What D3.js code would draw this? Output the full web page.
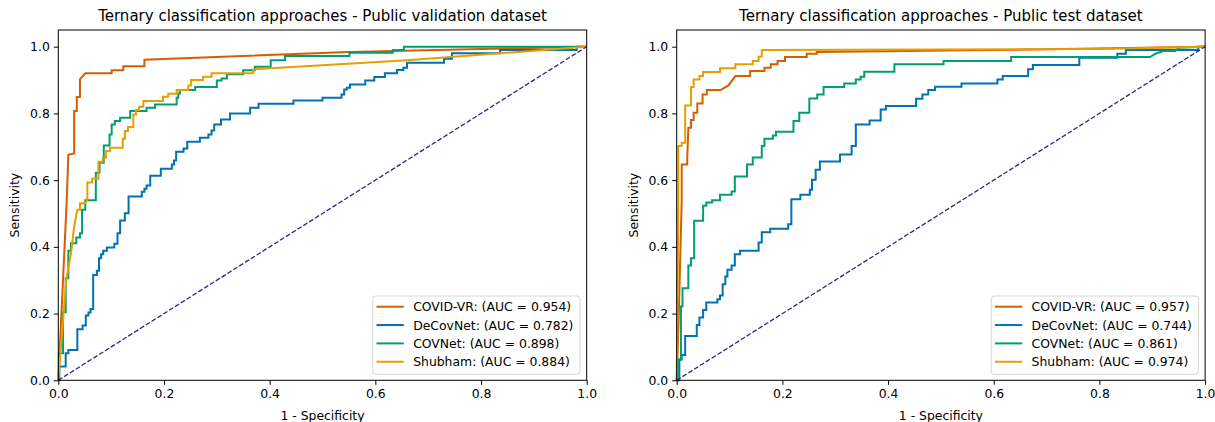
<!DOCTYPE html>
<html>
<head>
<meta charset="utf-8">
<script src="https://cdn.jsdelivr.net/npm/d3@7"></script>
<style>
  body { margin: 0; background: #fff; }
  svg { font-family: "DejaVu Sans", sans-serif; }
</style>
</head>
<body>
<svg width="1215" height="422"></svg>
<script>
// series names + colours, shared by both panels
var seriesNames = ["COVID-VR", "DeCovNet", "COVNet", "Shubham"];
var seriesColors = ["#d55e00", "#0072b2", "#009e73", "#e69f00"];
var xTicks = [0, 0.2, 0.4, 0.6, 0.8, 1.0];
var yTicks = [0, 0.2, 0.4, 0.6, 0.8, 1.0];

// validation dataset, [fpr, tpr]
var valCovidVR = [[0,0],[0.003,0.1],[0.016,0.54],[0.019,0.676],[0.03,0.68],[0.03,0.807],[0.035,0.807],[0.035,0.849],[0.041,0.849],[0.041,0.902],[0.051,0.92],[0.101,0.92],[0.101,0.929],[0.123,0.929],[0.123,0.941],[0.163,0.941],[0.163,0.961],[0.55,0.984],[0.8,0.993],[1,1]];
var valDeCovNet = [[0,0],[0.002,0],[0.002,0.041],[0.014,0.041],[0.014,0.081],[0.019,0.081],[0.019,0.091],[0.036,0.091],[0.036,0.153],[0.046,0.153],[0.046,0.164],[0.052,0.164],[0.052,0.194],[0.057,0.194],[0.057,0.203],[0.061,0.203],[0.061,0.214],[0.066,0.214],[0.066,0.316],[0.073,0.316],[0.073,0.328],[0.077,0.328],[0.077,0.366],[0.081,0.366],[0.081,0.378],[0.085,0.378],[0.085,0.388],[0.092,0.388],[0.092,0.398],[0.106,0.398],[0.106,0.409],[0.112,0.409],[0.112,0.441],[0.117,0.441],[0.117,0.479],[0.126,0.479],[0.126,0.501],[0.133,0.501],[0.133,0.551],[0.158,0.551],[0.158,0.565],[0.163,0.565],[0.163,0.574],[0.167,0.574],[0.167,0.584],[0.174,0.584],[0.174,0.613],[0.194,0.613],[0.194,0.634],[0.215,0.634],[0.215,0.647],[0.219,0.647],[0.219,0.659],[0.223,0.659],[0.223,0.685],[0.237,0.685],[0.237,0.695],[0.244,0.695],[0.244,0.715],[0.268,0.715],[0.268,0.727],[0.284,0.727],[0.284,0.737],[0.29,0.737],[0.29,0.749],[0.295,0.749],[0.295,0.767],[0.308,0.767],[0.308,0.782],[0.325,0.782],[0.325,0.8],[0.363,0.8],[0.363,0.817],[0.379,0.817],[0.379,0.829],[0.445,0.829],[0.445,0.839],[0.5,0.839],[0.5,0.847],[0.536,0.847],[0.536,0.857],[0.541,0.857],[0.541,0.872],[0.546,0.872],[0.546,0.877],[0.552,0.877],[0.552,0.887],[0.581,0.887],[0.581,0.899],[0.598,0.899],[0.598,0.909],[0.618,0.909],[0.618,0.92],[0.641,0.92],[0.641,0.93],[0.653,0.93],[0.653,0.937],[0.66,0.937],[0.66,0.952],[0.73,0.952],[0.73,0.964],[0.745,0.964],[0.745,0.98],[0.836,0.98],[0.836,0.99],[0.981,0.99],[0.981,1],[1,1]];
var valCOVNet = [[0,0],[0.001,0],[0.001,0.081],[0.009,0.081],[0.009,0.204],[0.014,0.204],[0.014,0.306],[0.019,0.306],[0.019,0.388],[0.024,0.388],[0.024,0.411],[0.034,0.411],[0.034,0.428],[0.041,0.428],[0.041,0.441],[0.045,0.441],[0.045,0.511],[0.051,0.511],[0.051,0.54],[0.071,0.54],[0.071,0.622],[0.078,0.622],[0.078,0.652],[0.086,0.652],[0.086,0.704],[0.097,0.704],[0.097,0.737],[0.101,0.737],[0.101,0.767],[0.107,0.767],[0.107,0.777],[0.117,0.777],[0.117,0.787],[0.136,0.787],[0.136,0.807],[0.167,0.807],[0.167,0.817],[0.183,0.817],[0.183,0.827],[0.224,0.827],[0.224,0.847],[0.227,0.847],[0.227,0.86],[0.23,0.86],[0.23,0.87],[0.259,0.87],[0.259,0.879],[0.3,0.879],[0.3,0.899],[0.309,0.899],[0.309,0.905],[0.319,0.905],[0.319,0.917],[0.35,0.917],[0.35,0.929],[0.372,0.929],[0.372,0.94],[0.402,0.94],[0.402,0.959],[0.429,0.959],[0.429,0.972],[0.551,0.972],[0.551,0.982],[0.633,0.982],[0.633,0.99],[0.654,0.99],[0.654,1],[1,1]];
var valShubham = [[0,0],[0.005,0.1],[0.015,0.3],[0.025,0.391],[0.03,0.461],[0.036,0.511],[0.041,0.511],[0.041,0.531],[0.051,0.531],[0.055,0.541],[0.055,0.593],[0.064,0.593],[0.064,0.604],[0.076,0.604],[0.076,0.655],[0.084,0.655],[0.084,0.667],[0.09,0.667],[0.09,0.687],[0.098,0.687],[0.098,0.697],[0.122,0.697],[0.122,0.724],[0.126,0.724],[0.126,0.747],[0.132,0.747],[0.132,0.759],[0.142,0.759],[0.142,0.797],[0.147,0.797],[0.147,0.81],[0.153,0.81],[0.153,0.82],[0.161,0.82],[0.161,0.837],[0.198,0.837],[0.198,0.85],[0.208,0.85],[0.208,0.859],[0.224,0.859],[0.224,0.87],[0.246,0.87],[0.246,0.884],[0.251,0.884],[0.251,0.9],[0.274,0.9],[0.274,0.91],[0.29,0.91],[0.29,0.92],[0.369,0.92],[0.369,0.932],[0.66,0.959],[1,1]];
var valAUC = [0.954, 0.782, 0.898, 0.884];

// test dataset
var testCovidVR = [[0,0],[0.004,0.2],[0.0095,0.54],[0.0095,0.647],[0.02,0.647],[0.02,0.667],[0.022,0.757],[0.027,0.757],[0.027,0.78],[0.032,0.78],[0.032,0.802],[0.039,0.802],[0.039,0.83],[0.049,0.83],[0.049,0.857],[0.057,0.857],[0.057,0.87],[0.083,0.87],[0.098,0.884],[0.111,0.912],[0.139,0.912],[0.139,0.927],[0.166,0.927],[0.166,0.937],[0.178,0.937],[0.178,0.947],[0.191,0.947],[0.191,0.957],[0.205,0.957],[0.205,0.969],[0.246,0.969],[0.246,0.979],[0.265,0.979],[0.265,0.984],[0.6,0.99],[1,1]];
var testDeCovNet = [[0,0],[0.005,0],[0.005,0.063],[0.0095,0.063],[0.0095,0.076],[0.016,0.076],[0.016,0.133],[0.038,0.133],[0.038,0.166],[0.043,0.166],[0.043,0.188],[0.05,0.188],[0.05,0.211],[0.056,0.211],[0.056,0.233],[0.077,0.233],[0.077,0.243],[0.082,0.243],[0.082,0.254],[0.087,0.254],[0.087,0.288],[0.092,0.288],[0.092,0.311],[0.096,0.311],[0.096,0.331],[0.104,0.331],[0.104,0.344],[0.11,0.344],[0.11,0.378],[0.12,0.378],[0.12,0.388],[0.155,0.388],[0.155,0.413],[0.161,0.413],[0.161,0.444],[0.177,0.444],[0.177,0.454],[0.211,0.454],[0.211,0.468],[0.217,0.468],[0.217,0.543],[0.234,0.543],[0.234,0.556],[0.252,0.556],[0.252,0.571],[0.256,0.571],[0.256,0.601],[0.263,0.601],[0.263,0.631],[0.271,0.631],[0.271,0.656],[0.309,0.656],[0.309,0.677],[0.331,0.677],[0.331,0.702],[0.339,0.702],[0.339,0.767],[0.365,0.767],[0.365,0.779],[0.386,0.779],[0.386,0.812],[0.396,0.812],[0.396,0.822],[0.453,0.822],[0.453,0.844],[0.465,0.844],[0.465,0.857],[0.476,0.857],[0.476,0.87],[0.489,0.87],[0.489,0.88],[0.539,0.88],[0.539,0.89],[0.607,0.89],[0.607,0.902],[0.617,0.902],[0.617,0.912],[0.665,0.912],[0.665,0.932],[0.674,0.932],[0.674,0.945],[0.762,0.945],[0.762,0.967],[0.834,0.967],[0.834,0.979],[0.85,0.979],[0.85,0.99],[0.987,0.99],[0.987,1],[1,1]];
var testCOVNet = [[0,0],[0.003,0],[0.003,0.061],[0.008,0.061],[0.008,0.221],[0.011,0.221],[0.011,0.276],[0.022,0.276],[0.022,0.344],[0.027,0.344],[0.027,0.366],[0.033,0.366],[0.033,0.478],[0.05,0.478],[0.05,0.523],[0.056,0.523],[0.056,0.533],[0.067,0.533],[0.067,0.54],[0.082,0.54],[0.082,0.556],[0.104,0.556],[0.104,0.566],[0.11,0.566],[0.11,0.611],[0.133,0.611],[0.133,0.647],[0.144,0.647],[0.144,0.668],[0.161,0.668],[0.161,0.702],[0.166,0.702],[0.166,0.724],[0.182,0.724],[0.182,0.734],[0.188,0.734],[0.188,0.745],[0.221,0.745],[0.221,0.777],[0.232,0.777],[0.232,0.802],[0.251,0.802],[0.251,0.845],[0.266,0.845],[0.266,0.857],[0.278,0.857],[0.278,0.879],[0.317,0.879],[0.317,0.89],[0.339,0.89],[0.339,0.902],[0.348,0.902],[0.348,0.91],[0.355,0.91],[0.355,0.925],[0.412,0.925],[0.412,0.947],[0.505,0.947],[0.505,0.957],[0.633,0.957],[0.633,0.969],[0.896,0.969],[0.906,0.979],[0.921,0.987],[0.944,0.987],[0.95,0.997],[1,1]];
var testShubham = [[0,0],[0.002,0.3],[0.003,0.54],[0.003,0.702],[0.0095,0.702],[0.0095,0.712],[0.016,0.712],[0.016,0.824],[0.027,0.824],[0.027,0.879],[0.032,0.879],[0.032,0.902],[0.043,0.902],[0.043,0.912],[0.05,0.912],[0.05,0.924],[0.082,0.924],[0.082,0.935],[0.111,0.935],[0.111,0.947],[0.144,0.947],[0.144,0.957],[0.155,0.957],[0.155,0.97],[0.161,0.97],[0.161,0.99],[0.8,0.993],[1,1]];
var testAUC = [0.957, 0.744, 0.861, 0.974];

var svg = d3.select("svg");

function drawPanel(left, title, curves, aucs) {
  var w = 528.4, top = 30, bottom = 380.3;
  var x = d3.scaleLinear().domain([0, 1]).range([left, left + w]);
  var y = d3.scaleLinear().domain([0, 1.05]).range([bottom, top]);
  var g = svg.append("g");

  var line = d3.line().x(function (d) { return x(d[0]); }).y(function (d) { return y(d[1]); });

  curves.forEach(function (c, i) {
    g.append("path")
      .datum(c)
      .attr("fill", "none")
      .attr("stroke", seriesColors[i])
      .attr("stroke-width", 2)
      .attr("stroke-linejoin", "miter")
      .attr("d", line);
  });

  // chance line
  g.append("path")
    .datum([[0, 0], [1, 1]])
    .attr("fill", "none")
    .attr("stroke", "#332288")
    .attr("stroke-width", 1.3)
    .attr("stroke-dasharray", "4.8,2.1")
    .attr("d", line);

  // axes
  var xAxis = g.append("g").attr("transform", "translate(0," + bottom + ")")
    .call(d3.axisBottom(x).tickValues(xTicks).tickFormat(d3.format(".1f")).tickSize(4.5).tickPadding(4));
  var yAxis = g.append("g").attr("transform", "translate(" + left + ",0)")
    .call(d3.axisLeft(y).tickValues(yTicks).tickFormat(d3.format(".1f")).tickSize(4.5).tickPadding(4));
  [xAxis, yAxis].forEach(function (a) {
    a.select(".domain").remove();
    a.selectAll("line").attr("stroke", "#000").attr("stroke-width", 1);
    a.selectAll("text").attr("fill", "#000").style("font-size", "12.4px").style("font-family", "DejaVu Sans");
  });

  // frame
  g.append("rect")
    .attr("x", left).attr("y", top)
    .attr("width", w).attr("height", bottom - top)
    .attr("fill", "none").attr("stroke", "#000").attr("stroke-width", 1);

  g.append("text")
    .attr("x", left + w / 2).attr("y", 21)
    .attr("text-anchor", "middle")
    .style("font-size", "15px")
    .text(title);

  g.append("text")
    .attr("x", left + w / 2).attr("y", 419.5)
    .attr("text-anchor", "middle")
    .style("font-size", "12.4px")
    .text("1 - Specificity");

  g.append("text")
    .attr("transform", "translate(" + (left - 39) + "," + ((top + bottom) / 2) + ") rotate(-90)")
    .attr("text-anchor", "middle")
    .style("font-size", "12.4px")
    .text("Sensitivity");

  // legend
  var leg = g.append("g");
  var box = leg.append("rect")
    .attr("fill", "#fff").attr("fill-opacity", 0.8)
    .attr("stroke", "#d6d6d6").attr("stroke-width", 1)
    .attr("rx", 3);
  var maxW = 0;
  seriesNames.forEach(function (n, i) {
    var t = leg.append("text")
      .attr("x", 40.4).attr("y", 10.7 + i * 18.35)
      .attr("dy", "0.36em")
      .style("font-size", "12.4px")
      .text(n + ": (AUC = " + d3.format(".3f")(aucs[i]) + ")");
    maxW = Math.max(maxW, t.node().getComputedTextLength());
    leg.append("line")
      .attr("x1", 3.7).attr("x2", 31)
      .attr("y1", 10.7 + i * 18.35).attr("y2", 10.7 + i * 18.35)
      .attr("stroke", seriesColors[i]).attr("stroke-width", 2);
  });
  var bw = maxW + 47, bh = 78.3;
  box.attr("x", 0).attr("y", 0).attr("width", bw).attr("height", bh);
  leg.attr("transform", "translate(" + (left + w - 6.7 - bw) + "," + (bottom - 6 - bh) + ")");
}

drawPanel(58.3, "Ternary classification approaches - Public validation dataset",
  [valCovidVR, valDeCovNet, valCOVNet, valShubham], valAUC);
drawPanel(676.7, "Ternary classification approaches - Public test dataset",
  [testCovidVR, testDeCovNet, testCOVNet, testShubham], testAUC);
</script>
</body>
</html>
